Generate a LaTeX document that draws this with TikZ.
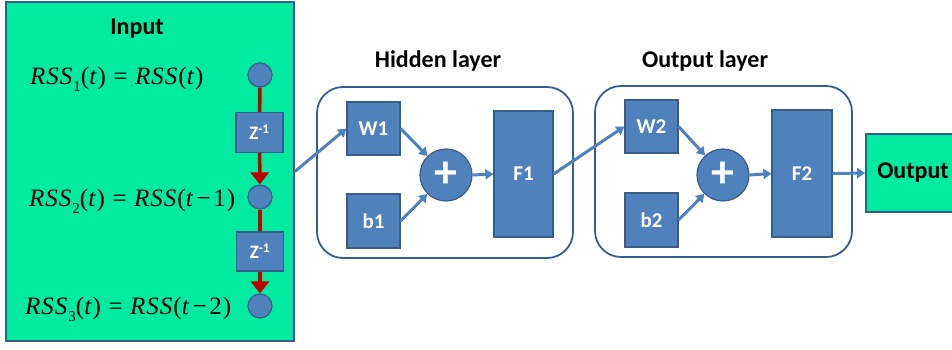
\documentclass[tikz,border=0pt]{standalone}
\usepackage{fontspec}
\setmainfont{Carlito}
\newfontfamily\eqfont{Liberation Serif}[LetterSpace=4]
\usetikzlibrary{arrows.meta}
\definecolor{grn}{HTML}{00EBA0}
\definecolor{bfill}{HTML}{4F81BD}
\definecolor{bdraw}{HTML}{385D8A}
\definecolor{rline}{HTML}{C00000}
\newcommand\eqsub[1]{\raisebox{-0.28em}{\fontsize{15}{15}\selectfont #1}}
\newcommand\eqsp{\hspace{0.3em}}
\newcommand\mnsp{\hspace{0.1em}}
\tikzset{
  greenbox/.style={draw=bdraw, line width=1.8pt, fill=grn, inner sep=0pt},
  bluebox/.style={draw=bdraw, line width=1.2pt, fill=bfill, inner sep=0pt, text=white, font=\fontsize{21}{21}\selectfont\bfseries},
  bluecirc/.style={circle, draw=bdraw, line width=1.2pt, fill=bfill, inner sep=0pt},
  layerbox/.style={draw=bdraw, line width=1.8pt, fill=white, rounded corners=26pt, inner sep=0pt},
  title/.style={font=\fontsize{24}{24}\selectfont\bfseries, text=black},
  eqn/.style={anchor=base west, inner sep=0pt, font=\eqfont\fontsize{25}{25}\selectfont},
  zbox/.style={bluebox, font=\fontsize{19}{19}\selectfont\bfseries},
  plus/.style={bluecirc, minimum size=52pt, text=white, font=\fontsize{46}{46}\selectfont\bfseries},
  conn/.style={draw=bfill, line width=3pt, -{Triangle[width=10pt,length=8pt]}},
  redl/.style={draw=rline, line width=3.5pt},
  reda/.style={draw=rline, line width=3.5pt, -{Triangle[width=18pt,length=12pt]}},
}
\begin{document}
\begin{tikzpicture}[x=1pt,y=-1pt]
\useasboundingbox (0,0) rectangle (952,349);
% Input block
\node[greenbox, minimum width=288pt, minimum height=339pt] (inbox) at (150,171.5) {};
\node[title] (intitle) at (137,29) {Input};
\node[eqn] (eq1) at (30,84) {\textit{RSS}\eqsub{1}(\textit{t})\eqsp=\eqsp\textit{RSS}(\textit{t})};
\node[eqn] (eq2) at (29,206) {\textit{RSS}\eqsub{2}(\textit{t})\eqsp=\eqsp\textit{RSS}(\textit{t}\mnsp−\mnsp1)};
\node[eqn] (eq3) at (25,314) {\textit{RSS}\eqsub{3}(\textit{t})\eqsp=\eqsp\textit{RSS}(\textit{t}\mnsp−\mnsp2)};
\node[bluecirc, minimum size=24pt] (c1) at (260,75) {};
\node[bluecirc, minimum size=24pt] (c2) at (260,197) {};
\node[bluecirc, minimum size=24pt] (c3) at (260,306) {};
\node[zbox, minimum width=47pt, minimum height=40pt] (z1) at (259.5,132.5) {Z\textsuperscript{-1}};
\node[zbox, minimum width=47pt, minimum height=39pt] (z2) at (260,251.5) {Z\textsuperscript{-1}};
\draw[redl] (c1) -- (z1);
\draw[reda] (z1) -- (c2);
\draw[redl] (c2) -- (z2);
\draw[reda] (z2) -- (c3);
% Hidden layer
\node[title] (htitle) at (438,61) {Hidden layer};
\node[layerbox, minimum width=256pt, minimum height=171pt] (hid) at (445,172.5) {};
\node[bluebox, minimum width=53pt, minimum height=53pt] (W1) at (373.5,128.5) {W1};
\node[bluebox, minimum width=53pt, minimum height=54pt] (b1) at (373.5,221) {b1};
\node[plus] (p1) at (446,175) {+};
\node[bluebox, minimum width=59pt, minimum height=126pt] (F1) at (523.5,174) {F1};
% Output layer
\node[title] (otitle) at (705,61) {Output layer};
\node[layerbox, minimum width=257pt, minimum height=171pt] (olay) at (723.5,171.5) {};
\node[bluebox, minimum width=53pt, minimum height=53pt] (W2) at (651.5,126.5) {W2};
\node[bluebox, minimum width=53pt, minimum height=54pt] (b2) at (651.5,220) {b2};
\node[plus] (p2) at (723,175) {+};
\node[bluebox, minimum width=60pt, minimum height=127pt] (F2) at (802,173.5) {F2};
% Output
\node[greenbox, minimum width=94pt, minimum height=78pt, font=\fontsize{24}{24}\selectfont\bfseries] (out) at (913,173) {Output};
% connectors
\draw[conn] (inbox.east) -- (W1.west);
\draw[conn] (W1.east) -- (p1);
\draw[conn] (b1.east) -- (p1);
\draw[conn] (p1.east) -- (F1.west);
\draw[conn] (F1.east) -- (W2.west);
\draw[conn] (W2.east) -- (p2);
\draw[conn] (b2.east) -- (p2);
\draw[conn] (p2.east) -- (F2.west);
\draw[conn] (F2.east) -- (out.west);
\end{tikzpicture}
\end{document}
